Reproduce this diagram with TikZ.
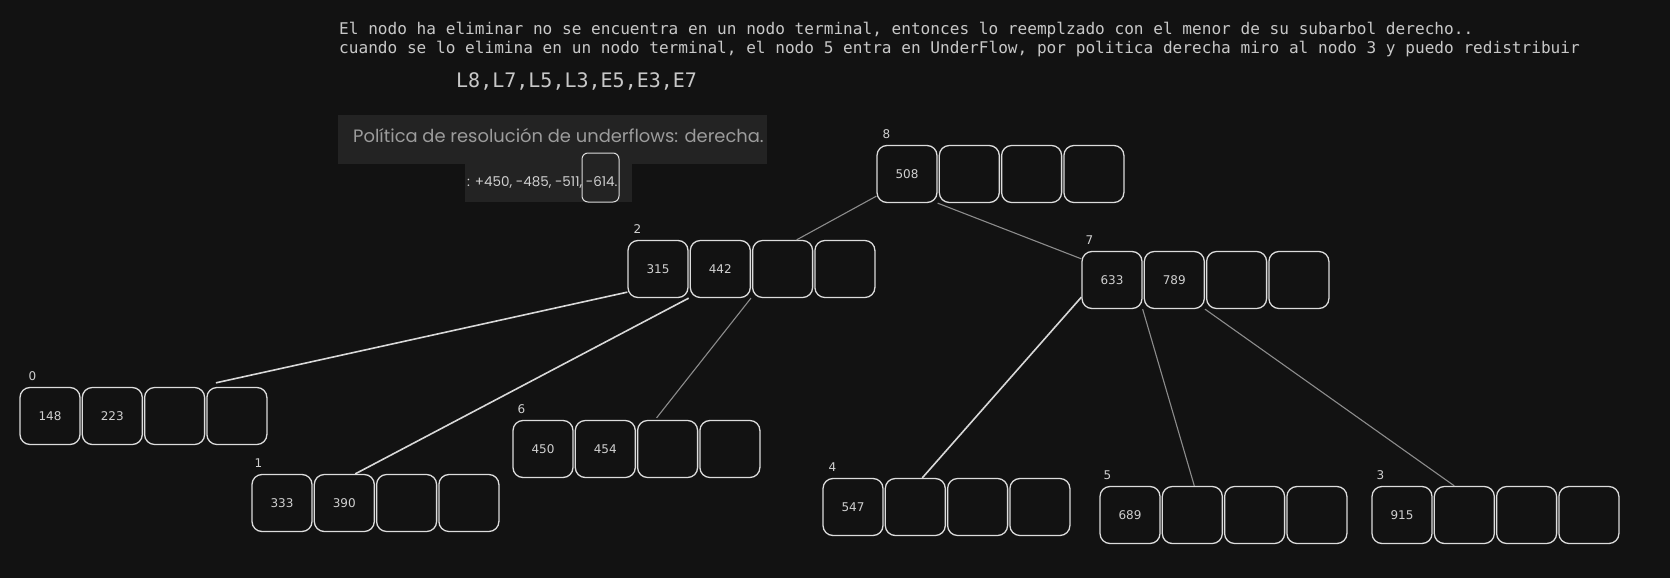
\documentclass[tikz,border=0pt]{standalone}
\usepackage{fontspec}
\setmainfont{DejaVu Sans}
\newfontfamily\codefont{DejaVu Sans Mono}
\newfontfamily\slidefont{Poppins}
\newfontfamily\handfont{DejaVu Sans}
\usetikzlibrary{positioning}
\definecolor{bgdark}{HTML}{121212}
\definecolor{keyline}{HTML}{DCDCDC}
\definecolor{keytext}{HTML}{D0D0D0}
\definecolor{ptrgray}{HTML}{8C8C8C}
\definecolor{ptrlight}{HTML}{D8D8D8}
\definecolor{codetext}{HTML}{C8C8C8}
\definecolor{panelfill}{HTML}{232323}
\definecolor{paneltext}{HTML}{9C9C9C}

\begin{document}
\begin{tikzpicture}[x=1pt,y=-1pt,node distance=1pt,
    key/.style={draw=keyline,line width=1.3pt,rounded corners=10pt,minimum width=60pt,minimum height=57pt,inner sep=0pt,text=keytext,font=\handfont\fontsize{12}{12}\selectfont},
    idx/.style={inner sep=0pt,text=keytext,font=\handfont\fontsize{12}{12}\selectfont},
    ptr/.style={draw=ptrgray,line width=1.1pt},
    ptrw/.style={draw=ptrlight,line width=1.6pt},
    code/.style={inner sep=0pt,anchor=west,text=codetext,font=\codefont\fontsize{16.1}{16.1}\selectfont},
    panel/.style={fill=panelfill,inner sep=0pt,anchor=north west}]
    \fill[bgdark] (0,0) rectangle (1670,578);
    \node[code] (msg1) at (339,30) {El nodo ha eliminar no se encuentra en un nodo terminal, entonces lo reemplzado con el menor de su subarbol derecho..};
    \node[code] (msg2) at (339,49) {cuando se lo elimina en un nodo terminal, el nodo 5 entra en UnderFlow, por politica derecha miro al nodo 3 y puedo redistribuir};
    \node[code,font=\codefont\fontsize{20}{20}\selectfont] (ops) at (456,81) {L8,L7,L5,L3,E5,E3,E7};
    \node[panel,minimum width=429pt,minimum height=49pt] (politica) at (338,115) {};
    \node[inner sep=0pt,anchor=west,text=paneltext,font=\slidefont\fontsize{17.9}{17.9}\selectfont] (politxt) at ([xshift=15pt,yshift=4pt]politica.west) {Política de resolución de underflows: derecha.};
    \node[panel,minimum width=167pt,minimum height=38pt] (claves) at (465,164) {};
    \node[inner sep=0pt,anchor=west,text=keytext,font=\slidefont\fontsize{13.5}{13.5}\selectfont] (clavestxt) at ([xshift=2pt,yshift=1pt]claves.west) {: +450, -485, -511, -614.};
    \node[draw=keyline,line width=1pt,rounded corners=6pt,minimum width=37pt,minimum height=49pt,inner sep=0pt] (marca) at (600.5,177.5) {};

    \node[key] (n8a) at (907,174) {508};
    \node[key,right=of n8a] (n8b) {};
    \node[key,right=of n8b] (n8c) {};
    \node[key,right=of n8c] (n8d) {};
    \node[idx,above right=6pt and 6pt of n8a.north west] (l8) {8};

    \node[key] (n2a) at (658,269) {315};
    \node[key,right=of n2a] (n2b) {442};
    \node[key,right=of n2b] (n2c) {};
    \node[key,right=of n2c] (n2d) {};
    \node[idx,above right=6pt and 6pt of n2a.north west] (l2) {2};

    \node[key] (n7a) at (1112,280) {633};
    \node[key,right=of n7a] (n7b) {789};
    \node[key,right=of n7b] (n7c) {};
    \node[key,right=of n7c] (n7d) {};
    \node[idx,above right=6pt and 4pt of n7a.north west] (l7) {7};

    \node[key] (n0a) at (50,416) {148};
    \node[key,right=of n0a] (n0b) {223};
    \node[key,right=of n0b] (n0c) {};
    \node[key,right=of n0c] (n0d) {};
    \node[idx,above right=6pt and 9pt of n0a.north west] (l0) {0};

    \node[key] (n6a) at (543,449) {450};
    \node[key,right=of n6a] (n6b) {454};
    \node[key,right=of n6b] (n6c) {};
    \node[key,right=of n6c] (n6d) {};
    \node[idx,above right=6pt and 5pt of n6a.north west] (l6) {6};

    \node[key] (n1a) at (282,503) {333};
    \node[key,right=of n1a] (n1b) {390};
    \node[key,right=of n1b] (n1c) {};
    \node[key,right=of n1c] (n1d) {};
    \node[idx,above right=6pt and 3pt of n1a.north west] (l1) {1};

    \node[key] (n4a) at (853,507) {547};
    \node[key,right=of n4a] (n4b) {};
    \node[key,right=of n4b] (n4c) {};
    \node[key,right=of n4c] (n4d) {};
    \node[idx,above right=6pt and 6pt of n4a.north west] (l4) {4};

    \node[key] (n5a) at (1130,515) {689};
    \node[key,right=of n5a] (n5b) {};
    \node[key,right=of n5b] (n5c) {};
    \node[key,right=of n5c] (n5d) {};
    \node[idx,above right=6pt and 4pt of n5a.north west] (l5) {5};

    \node[key] (n3a) at (1402,515) {915};
    \node[key,right=of n3a] (n3b) {};
    \node[key,right=of n3b] (n3c) {};
    \node[key,right=of n3c] (n3d) {};
    \node[idx,above right=6pt and 5pt of n3a.north west] (l3) {3};

    \draw[ptr] ([yshift=7pt]n8a.south west) -- ([xshift=14pt]n2c.north);
    \draw[ptr] (n8a.south east) -- ([yshift=-8pt]n7a.north west);
    \draw[ptrw] ([yshift=6pt]n2a.south west) -- ([xshift=-21pt,yshift=4pt]n0d.north);
    \draw[ptrw] (n2a.south east) -- ([xshift=11pt]n1b.north);
    \draw[ptr] (n2b.south east) -- ([xshift=-11pt,yshift=2pt]n6c.north);
    \draw[ptrw] ([yshift=12pt]n7a.south west) -- ([xshift=7pt]n4b.north);
    \draw[ptr] (n7a.south east) -- ([xshift=2pt]n5b.north);
    \draw[ptr] (n7b.south east) -- ([xshift=-10pt]n3b.north);
\end{tikzpicture}
\end{document}
